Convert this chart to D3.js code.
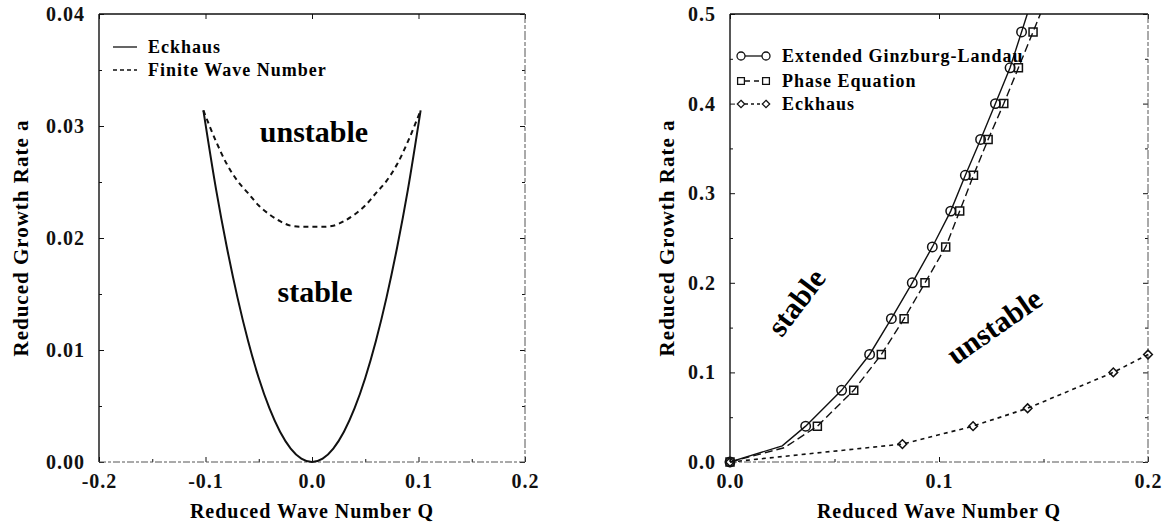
<!DOCTYPE html>
<html lang="en">
<head>
<meta charset="UTF-8">
<script src="https://d3js.org/d3.v7.min.js"></script>
<style>
  body { margin: 0; background: #fff; }
  svg { display: block; font-family: "Liberation Serif", "Times New Roman", serif; font-weight: bold; }
  .tick line { stroke: #111; }
</style>
</head>
<body>
<div id="chart"></div>
<script>
// ---- left panel: stability boundaries ----
const leftQ = [-0.102, -0.09, -0.08, -0.07, -0.06, -0.05, -0.04, -0.03, -0.02, -0.01, 0,
               0.01, 0.02, 0.03, 0.04, 0.05, 0.06, 0.07, 0.08, 0.09, 0.102];
const leftEckhaus = [0.0314, 0.0243, 0.0192, 0.0147, 0.0108, 0.0075, 0.0048, 0.0027, 0.0012, 0.0003, 0,
                     0.0003, 0.0012, 0.0027, 0.0048, 0.0075, 0.0108, 0.0147, 0.0192, 0.0243, 0.0314];
const leftFinite = [0.0314, 0.0286, 0.0266, 0.0251, 0.0240, 0.0229, 0.0221, 0.0215, 0.0211, 0.0210, 0.0210,
                    0.0210, 0.0211, 0.0215, 0.0221, 0.0229, 0.0240, 0.0251, 0.0266, 0.0286, 0.0314];
const leftXTicks = [-0.2, -0.1, 0.0, 0.1, 0.2];
const leftYTicks = [0.00, 0.01, 0.02, 0.03, 0.04];

// ---- right panel: growth rate vs wave number ----
const glQ = [0, 0.025, 0.0362, 0.0534, 0.0668, 0.0772, 0.0872, 0.0968, 0.1056, 0.1126, 0.1199, 0.127, 0.134, 0.1395, 0.145];
const glA = [0, 0.018, 0.04, 0.08, 0.12, 0.16, 0.20, 0.24, 0.28, 0.32, 0.36, 0.40, 0.44, 0.48, 0.52];
const glMark = [1, 0, 1, 1, 1, 1, 1, 1, 1, 1, 1, 1, 1, 1, 0];
const phaseQ = [0, 0.026, 0.0418, 0.0592, 0.0724, 0.0833, 0.0933, 0.1032, 0.1099, 0.1165, 0.1235, 0.131, 0.138, 0.145, 0.152];
const phaseA = [0, 0.016, 0.04, 0.08, 0.12, 0.16, 0.20, 0.24, 0.28, 0.32, 0.36, 0.40, 0.44, 0.48, 0.52];
const phaseMark = [1, 0, 1, 1, 1, 1, 1, 1, 1, 1, 1, 1, 1, 1, 0];
const eckQ = [0, 0.0825, 0.1163, 0.1424, 0.1834, 0.2];
const eckA = [0, 0.02, 0.04, 0.06, 0.10, 0.12];
const rightXTicks = [0.0, 0.1, 0.2];
const rightYTicks = [0.0, 0.1, 0.2, 0.3, 0.4, 0.5];

const W = 1173, H = 524;
const SERIF = '"Liberation Serif", "Times New Roman", serif';

const svg = d3.select("#chart").append("svg")
    .attr("width", W)
    .attr("height", H);

// plain hyphen instead of the unicode minus d3 uses
const fmt = (spec) => (v) => d3.format(spec)(v).replace("\u2212", "-");

// the axis generator puts sans-serif 10px on its group, so override that
function styleAxis(ax) {
    ax.attr("font-family", SERIF)
        .attr("font-size", 20)
        .attr("font-weight", "bold");
    ax.selectAll("text")
        .attr("fill", "#111")
        .style("letter-spacing", "1px");
}

// draws the box, inward ticks on all four sides and tick labels
function frame(g, x, y, xTicks, yTicks, xMinor, yMinor, fx, fy) {
    const [x0, x1] = x.range();
    const [y0, y1] = y.range();

    g.append("g").attr("transform", "translate(" + x0 + ",0)")
        .call(d3.axisLeft(y).tickValues(yTicks).tickSize(-5).tickPadding(14).tickFormat(fy))
        .call(styleAxis);
    g.append("g").attr("transform", "translate(" + x0 + ",0)")
        .call(d3.axisLeft(y).tickValues(yMinor).tickSize(-3).tickFormat(""));
    g.append("g").attr("transform", "translate(" + x1 + ",0)")
        .call(d3.axisRight(y).tickValues(yTicks).tickSize(-5).tickFormat(""));
    g.append("g").attr("transform", "translate(" + x1 + ",0)")
        .call(d3.axisRight(y).tickValues(yMinor).tickSize(-3).tickFormat(""));
    g.append("g").attr("transform", "translate(0," + y0 + ")")
        .call(d3.axisBottom(x).tickValues(xTicks).tickSize(-5).tickPadding(12).tickFormat(fx))
        .call(styleAxis);
    g.append("g").attr("transform", "translate(0," + y0 + ")")
        .call(d3.axisBottom(x).tickValues(xMinor).tickSize(-3).tickFormat(""));
    g.append("g").attr("transform", "translate(0," + y1 + ")")
        .call(d3.axisTop(x).tickValues(xTicks).tickSize(-5).tickFormat(""));
    g.selectAll(".domain").remove();

    // box: top and left solid, bottom and right a bit faded like the scan
    g.append("line").attr("x1", x0).attr("x2", x1).attr("y1", y1).attr("y2", y1)
        .attr("stroke", "#111").attr("stroke-width", 1.4);
    g.append("line").attr("x1", x0).attr("x2", x0).attr("y1", y1).attr("y2", y0)
        .attr("stroke", "#111").attr("stroke-width", 1.4);
    g.append("line").attr("x1", x0).attr("x2", x1).attr("y1", y0).attr("y2", y0)
        .attr("stroke", "#555").attr("stroke-width", 1).attr("stroke-dasharray", "7,2,3,2");
    g.append("line").attr("x1", x1).attr("x2", x1).attr("y1", y1).attr("y2", y0)
        .attr("stroke", "#555").attr("stroke-width", 1).attr("stroke-dasharray", "9,2,4,2");
}

function titles(g, x, y, yCenterX) {
    const [x0, x1] = x.range();
    const [y0, y1] = y.range();
    g.append("text")
        .attr("x", (x0 + x1) / 2)
        .attr("y", 518)
        .attr("text-anchor", "middle")
        .style("font-size", "20px")
        .style("letter-spacing", "1px")
        .text("Reduced Wave Number Q");
    g.append("text")
        .attr("transform", "translate(" + yCenterX + "," + (y0 + y1) / 2 + ") rotate(-90)")
        .attr("text-anchor", "middle")
        .style("font-size", "21px")
        .style("letter-spacing", "1px")
        .text("Reduced Growth Rate a");
}

// ================= left panel =================
const xL = d3.scaleLinear().domain([-0.2, 0.2]).range([99, 525]);
const yL = d3.scaleLinear().domain([0, 0.04]).range([462, 14]);
const gL = svg.append("g");

frame(gL, xL, yL, leftXTicks, leftYTicks,
    [-0.15, -0.05, 0.05, 0.15], [0.005, 0.015, 0.025, 0.035],
    fmt(".1f"), fmt(".2f"));
titles(gL, xL, yL, 28);

const lineL = (vals) => d3.line()
    .x((d, i) => xL(leftQ[i]))
    .y((d) => yL(d))
    .curve(d3.curveMonotoneX)(vals);

gL.append("path")
    .attr("d", lineL(leftEckhaus))
    .attr("fill", "none")
    .attr("stroke", "#111")
    .attr("stroke-width", 2);

gL.append("path")
    .attr("d", lineL(leftFinite))
    .attr("fill", "none")
    .attr("stroke", "#111")
    .attr("stroke-width", 2)
    .attr("stroke-dasharray", "5,4");

// legend
const legL = [{ t: "Eckhaus", dash: null, y: 47 }, { t: "Finite Wave Number", dash: "4,3", y: 70 }];
legL.forEach((d) => {
    gL.append("line")
        .attr("x1", 113).attr("x2", 137).attr("y1", d.y).attr("y2", d.y)
        .attr("stroke", "#111").attr("stroke-width", 1.3)
        .attr("stroke-dasharray", d.dash);
    gL.append("text")
        .attr("x", 148).attr("y", d.y + 6)
        .style("font-size", "18px")
        .style("letter-spacing", "1px")
        .text(d.t);
});

gL.append("text")
    .attr("x", 314).attr("y", 142)
    .attr("text-anchor", "middle")
    .style("font-size", "30px")
    .text("unstable");
gL.append("text")
    .attr("x", 315).attr("y", 302)
    .attr("text-anchor", "middle")
    .style("font-size", "30px")
    .text("stable");

// ================= right panel =================
const xR = d3.scaleLinear().domain([0, 0.2]).range([730, 1148]);
const yR = d3.scaleLinear().domain([0, 0.5]).range([462, 14]);
const gR = svg.append("g");

frame(gR, xR, yR, rightXTicks, rightYTicks,
    [0.05, 0.15], [0.05, 0.15, 0.25, 0.35, 0.45],
    fmt(".1f"), fmt(".1f"));
titles(gR, xR, yR, 674);

svg.append("clipPath").attr("id", "clipR")
    .append("rect")
    .attr("x", 730).attr("y", 14)
    .attr("width", 1148 - 730).attr("height", 462 - 14);

const lineR = (qs, as) => d3.line()
    .x((d, i) => xR(qs[i]))
    .y((d, i) => yR(as[i]))(qs);

const plotR = gR.append("g").attr("clip-path", "url(#clipR)");

plotR.append("path")
    .attr("d", lineR(eckQ, eckA))
    .attr("fill", "none").attr("stroke", "#111").attr("stroke-width", 1.6)
    .attr("stroke-dasharray", "4,4");
plotR.append("path")
    .attr("d", lineR(phaseQ, phaseA))
    .attr("fill", "none").attr("stroke", "#111").attr("stroke-width", 1.4)
    .attr("stroke-dasharray", "8,4");
plotR.append("path")
    .attr("d", lineR(glQ, glA))
    .attr("fill", "none").attr("stroke", "#111").attr("stroke-width", 1.4);

const circleSym = d3.symbol().type(d3.symbolCircle).size(70);
const squareSym = d3.symbol().type(d3.symbolSquare).size(64);
const diamondSym = d3.symbol().type(d3.symbolDiamond2).size(48);

function markers(qs, as, flags, sym) {
    gR.append("g").selectAll("path")
        .data(qs.map((q, i) => ({ q: q, a: as[i], m: flags ? flags[i] : 1 })).filter((d) => d.m))
        .enter()
        .append("path")
        .attr("d", sym)
        .attr("transform", (d) => "translate(" + xR(d.q) + "," + yR(d.a) + ")")
        .attr("fill", "none")
        .attr("stroke", "#111")
        .attr("stroke-width", 1.5);
}
markers(phaseQ, phaseA, phaseMark, squareSym);
markers(glQ, glA, glMark, circleSym);
markers(eckQ, eckA, null, diamondSym);

// legend
const legR = [
    { t: "Extended Ginzburg-Landau", sym: circleSym, dash: null, y: 56 },
    { t: "Phase Equation", sym: squareSym, dash: "5,4", y: 81 },
    { t: "Eckhaus", sym: diamondSym, dash: "3,3", y: 104 }
];
legR.forEach((d) => {
    gR.append("line")
        .attr("x1", 745).attr("x2", 762).attr("y1", d.y).attr("y2", d.y)
        .attr("stroke", "#111").attr("stroke-width", 1.3)
        .attr("stroke-dasharray", d.dash);
    [741, 766].forEach((mx) => {
        gR.append("path")
            .attr("d", d.sym)
            .attr("transform", "translate(" + mx + "," + d.y + ") scale(0.85)")
            .attr("fill", "none").attr("stroke", "#111").attr("stroke-width", 1.5);
    });
    gR.append("text")
        .attr("x", 782).attr("y", d.y + 6)
        .style("font-size", "18px")
        .style("letter-spacing", "1px")
        .text(d.t);
});

gR.append("text")
    .attr("transform", "translate(796,302) rotate(-53)")
    .attr("text-anchor", "middle")
    .attr("dy", "0.35em")
    .style("font-size", "30px")
    .text("stable");
gR.append("text")
    .attr("transform", "translate(994,326) rotate(-35)")
    .attr("text-anchor", "middle")
    .attr("dy", "0.35em")
    .style("font-size", "30px")
    .text("unstable");
</script>
</body>
</html>
